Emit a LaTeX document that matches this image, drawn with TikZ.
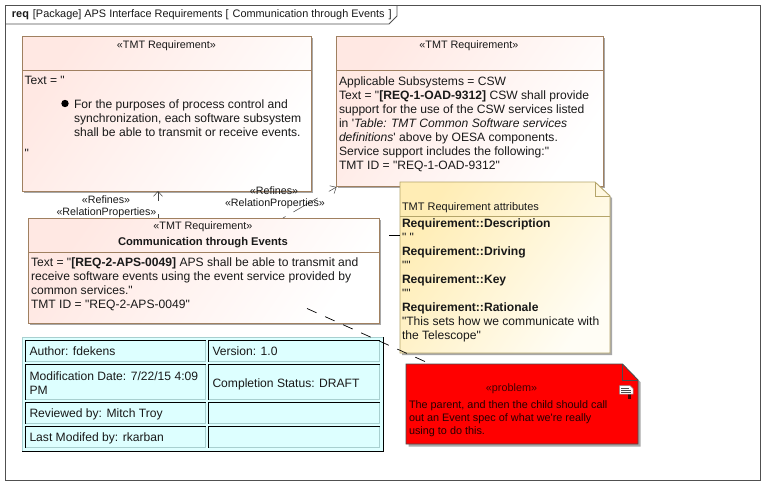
\documentclass[tikz,border=0pt]{standalone}
\usepackage{fontspec}
\setmainfont[Ligatures=TeXOff]{Liberation Sans}
\usetikzlibrary{arrows.meta,calc}
\definecolor{reqline}{HTML}{A08060}
\definecolor{reqpink}{HTML}{FFE8E3}
\definecolor{notelow}{HTML}{FFFDF5}
\definecolor{notehigh}{HTML}{FFEDB5}
\definecolor{noteline}{HTML}{B5A56A}
\definecolor{cellfill}{HTML}{DDFFFF}
\definecolor{tblline}{HTML}{A8D0D0}
\definecolor{shadowc}{HTML}{A8A8A8}
\definecolor{frameline}{HTML}{505050}
\tikzset{
  x=1pt,y=-1pt,
  reqbox/.style={draw=reqline,line width=0.9pt,left color=reqpink,right color=white,shading angle=55,anchor=north west,inner sep=0pt,outer sep=0pt},
  shadowbox/.style={fill=shadowc,draw=none},
  divider/.style={draw=reqline,line width=0.9pt},
  txt/.style={anchor=north west,inner sep=0pt,outer sep=0pt,align=left,font=\fontsize{12.1}{14}\selectfont,text=black!90},
  small/.style={anchor=center,inner sep=0pt,outer sep=0pt,align=center,font=\fontsize{10.8}{14}\selectfont,text=black!90},
  lab/.style={anchor=center,inner sep=0pt,outer sep=0pt,align=center,font=\fontsize{10.7}{13}\selectfont,text=black!90},
  refine/.style={draw=black!75,line width=0.5pt,-{Straight Barb[length=5pt,width=9pt]}},
  anchorline/.style={draw=black,line width=0.7pt,dash pattern=on 10.5pt off 9.3pt},
  cell/.style={fill=cellfill,draw=none},
  lightedge/.style={draw=tblline,line width=0.8pt},
  darkedge/.style={draw=black,line width=0.8pt},
}
\newcommand{\cellbox}[5]{%
  \path[cell] (#1,#2) rectangle (#3,#4);
  \draw[lightedge] (#3,#2) -- (#3,#4) -- (#1,#4);
  \draw[darkedge] (#1,#4) -- (#1,#2) -- (#3,#2);
  #5
}
\begin{document}
\begin{tikzpicture}
\useasboundingbox (0,0) rectangle (764,485);
\fill[white] (0,0) rectangle (764,485);
% frame
\draw[frameline,line width=0.9pt] (5.5,5.5) rectangle (760,480);
\draw[frameline,line width=0.9pt] (5.5,24) -- (389,24) -- (397,16) -- (397,5.5);
\node[txt,font=\fontsize{10.9}{14}\selectfont] (title) at (12,9.5) {\textbf{req}\hspace{4pt}[Package] APS Interface Requirements [\hspace{4pt}Communication through Events\hspace{4pt}]};

% shadows
\fill[shadowbox] (24,38) rectangle (313,193);
\fill[shadowbox] (338,38) rectangle (605,188);
\fill[shadowbox] (30,220) rectangle (381,325);
% requirement boxes
\node[reqbox,minimum width=289pt,minimum height=155pt] (reqA) at (22,36) {};
\draw[divider] (22,70) -- (311,70);
\node[small] (reqAst) at (166.5,45.5) {«TMT Requirement»};
\node[txt] (reqAt) at (24.5,76.3) {Text = "};
\fill[black] (65,103.5) circle (3.7);
\node[txt] (reqAb) at (74,99.8) {For the purposes of process control and\\synchronization, each software subsystem\\shall be able to transmit or receive events.};
\node[txt] (reqAq) at (24.5,149.5) {"};

\node[reqbox,minimum width=267pt,minimum height=150pt] (reqB) at (336,36) {};
\draw[divider] (336,70) -- (603,70);
\node[small] (reqBst) at (469,45.5) {«TMT Requirement»};
\node[txt] (reqBt) at (339,76.3) {Applicable Subsystems = CSW\\Text = "\textbf{[REQ-1-OAD-9312]} CSW shall provide\\support for the use of the CSW services listed\\in '\textit{Table: TMT Common Software services}\\\textit{definitions}' above by OESA components.\\Service support includes the following:"\\TMT ID = "REQ-1-OAD-9312"};

\node[reqbox,minimum width=351pt,minimum height=105pt] (reqC) at (28,218) {};
\draw[divider] (28,252) -- (379,252);
\node[small] (reqCst) at (203,227) {«TMT Requirement»};
\node[small,font=\fontsize{11.2}{14}\selectfont\bfseries] (reqCn) at (203,242.5) {Communication through Events};
\node[txt] (reqCt) at (31,258) {Text = "\textbf{[REQ-2-APS-0049]} APS shall be able to transmit and\\receive software events using the event service provided by\\common services."\\TMT ID = "REQ-2-APS-0049"};

% refine connectors
\coordinate (rA) at (158,218);
\coordinate (rAh) at (158,191);
\coordinate (rB) at (283,218);
\coordinate (rBh) at (336.5,187);
\draw[refine,dash pattern=on 4pt off 13pt on 12pt] (rA) -- (rAh);
\draw[refine,dash pattern=on 3pt off 9pt on 28pt off 13pt on 12pt] (rB) -- (rBh);
\node[lab] (l1) at (106,199.5) {«Refines»};
\node[lab] (l2) at (106.5,212.5) {«RelationProperties»};
\node[lab] (l3) at (274,190.5) {«Refines»};
\node[lab] (l4) at (275,203.5) {«RelationProperties»};

% table
\path[cell] (22,337) rectangle (383,451);
\draw[lightedge] (22,451) -- (22,337) -- (383,337);
\draw[darkedge] (383,337) -- (383,451.5) -- (22,451.5);
\cellbox{25.5}{340.5}{205.5}{361.5}{\node[txt] (c11) at (29.5,347) {Author: fdekens};}
\cellbox{208.5}{340.5}{379.5}{361.5}{\node[txt] (c12) at (212.5,347) {Version: 1.0};}
\cellbox{25.5}{364.5}{205.5}{399.5}{\node[txt] (c21) at (29.5,372) {Modification Date: 7/22/15 4:09\\PM};}
\cellbox{208.5}{364.5}{379.5}{399.5}{\node[txt] (c22) at (212.5,379) {Completion Status: DRAFT};}
\cellbox{25.5}{402.5}{205.5}{423.5}{\node[txt] (c31) at (29.5,409) {Reviewed by: Mitch Troy};}
\cellbox{208.5}{402.5}{379.5}{423.5}{}
\cellbox{25.5}{426.5}{205.5}{447.5}{\node[txt] (c41) at (29.5,433) {Last Modifed by: rkarban};}
\cellbox{208.5}{426.5}{379.5}{447.5}{}

% yellow note
\fill[shadowbox] (402,184) -- (597,184) -- (612,198) -- (612,355) -- (402,355) -- cycle;
\path[left color=notehigh,right color=notelow,shading angle=55,draw=noteline,line width=0.9pt] (400,182) -- (595,182) -- (610,196) -- (610,353) -- (400,353) -- cycle;
\draw[noteline,line width=0.9pt] (595,182) -- (595,196) -- (610,196);
\draw[noteline,line width=0.9pt] (400,216) -- (610,216);
\node (noteA) [txt,font=\fontsize{11}{14}\selectfont] at (402,203) {TMT Requirement attributes};
\node (noteB) [txt] at (402,219) {\textbf{Requirement::Description}\\" "\\\textbf{Requirement::Driving}\\""\\\textbf{Requirement::Key}\\""\\\textbf{Requirement::Rationale}\\"This sets how we communicate with\\the Telescope"};

% red note
\fill[shadowbox] (408.5,366.5) -- (625,366.5) -- (640.5,382) -- (640.5,446.5) -- (408.5,446.5) -- cycle;
\path[fill=red,draw=black!70,line width=0.9pt] (406,364) -- (622.5,364) -- (638,380) -- (638,444) -- (406,444) -- cycle;
\draw[black!70,line width=0.9pt] (622.5,364) -- (622.5,380) -- (638,380);
\node[small,text=black!75!red] (redS) at (511.5,388.5) {«problem»};
\node[txt,font=\fontsize{10.85}{13}\selectfont,text=black!85!red] (redT) at (409,401) {The parent, and then the child should call\\out an Event spec of what we're really\\using to do this.};
% note icon
\fill[black!70!red] (628,393) rectangle (631,399);
\fill[white,draw=black!45,line width=0.5pt] (619.5,385.5) -- (630,385.5) -- (633,388.5) -- (633,394) -- (619.5,394) -- cycle;
\draw[black!70,line width=0.6pt] (621,388) -- (629,388) (621,390) -- (631,390) (621,392) -- (631,392);

% anchors
\coordinate (aS) at (307,308.5);
\coordinate (aE) at (426,362);
\draw[anchorline] (aS) -- (aE);
\coordinate (nS) at (389,235);
\coordinate (nE) at (400,235);
\draw[draw=black,line width=0.7pt] (nS) -- (nE);
\end{tikzpicture}
\end{document}
